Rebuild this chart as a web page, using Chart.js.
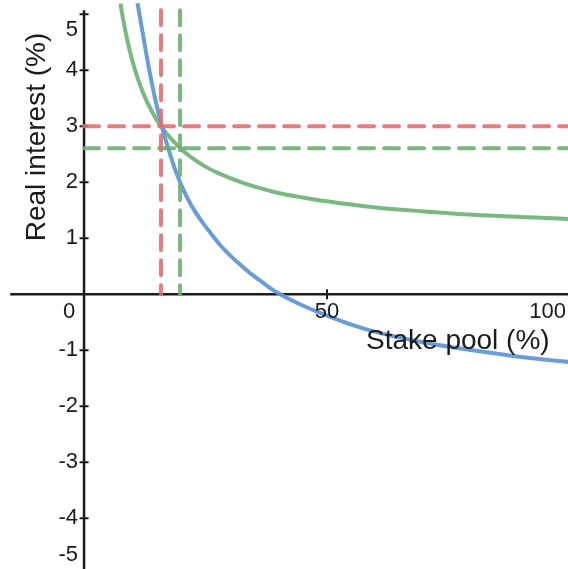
<!DOCTYPE html>
<html>
<head>
<meta charset="utf-8">
<script src="https://cdn.jsdelivr.net/npm/chart.js@4.4.1/dist/chart.umd.min.js"></script>
<style>
  html, body { margin: 0; padding: 0; background: #fff; overflow: hidden; }
  canvas { display: block; }
</style>
</head>
<body>
<canvas id="chart" width="568" height="569"></canvas>
<script>
// Blue curve
const blueX = [11, 12, 13, 14, 15, 16, 17, 18, 19, 20, 22, 24, 26, 28, 30, 32, 34, 36, 38, 40, 45, 50, 55, 60, 70, 80, 90, 100];
const blueY = [5.2, 4.7, 4.2, 3.75, 3.35, 3.0, 2.7, 2.42, 2.17, 1.95, 1.6, 1.33, 1.1, 0.88, 0.7, 0.54, 0.39, 0.26, 0.13, 0.02, -0.2, -0.38, -0.54, -0.67, -0.86, -1.0, -1.12, -1.21];

// Green curve
const greenX = [7.5, 8, 9, 10, 11, 12, 13, 14, 15, 16, 18, 20, 22, 25, 28, 32, 36, 40, 45, 50, 60, 70, 80, 90, 100];
const greenY = [5.19, 4.93, 4.5, 4.15, 3.87, 3.63, 3.43, 3.26, 3.11, 2.98, 2.77, 2.59, 2.45, 2.28, 2.15, 2.01, 1.9, 1.81, 1.73, 1.66, 1.55, 1.48, 1.42, 1.38, 1.345];

// Dashed guide lines
const redGuide = { x: 15.84, y: 3 };
const greenGuide = { x: 19.75, y: 2.61 };

// Axis ranges and ticks
const xRange = [-17.3, 99.6];
const yRange = [-4.905, 5.255];
const xAxisStart = -15.2;
const yAxisTop = 5.07;
const xTicks = [50, 100];
const yTicks = [-5, -4, -3, -2, -1, 1, 2, 3, 4, 5];
const xTitle = 'Stake pool (%)';
const yTitle = 'Real interest (%)';

const BLUE = 'rgba(98, 152, 212, 0.95)';
const GREEN = 'rgba(110, 178, 118, 0.92)';
const RED = 'rgba(222, 112, 112, 0.9)';
const GREEN_DASH = 'rgba(110, 175, 115, 0.9)';

function toPoints(xs, ys) {
    return xs.map((x, i) => ({ x, y: ys[i] }));
}

function curve(data, color) {
    return {
        data,
        borderColor: color,
        borderWidth: 4,
        pointRadius: 0,
        showLine: true,
        fill: false,
        cubicInterpolationMode: 'monotone',
        order: 2
    };
}

function dashed(data, color) {
    return {
        data,
        borderColor: color,
        borderWidth: 4,
        borderDash: [15, 10],
        borderCapStyle: 'round',
        pointRadius: 0,
        showLine: true,
        fill: false,
        order: 1
    };
}

const axesPlugin = {
    id: 'centerAxes',
    beforeDatasetsDraw(chart) {
        const { ctx, scales: { x, y } } = chart;
        const x0 = x.getPixelForValue(0);
        const y0 = y.getPixelForValue(0);
        ctx.save();
        ctx.strokeStyle = '#1c1c1c';
        ctx.lineWidth = 2.5;
        ctx.beginPath();
        ctx.moveTo(x.getPixelForValue(xAxisStart), y0);
        ctx.lineTo(chart.width, y0);
        ctx.moveTo(x0, y.getPixelForValue(yAxisTop));
        ctx.lineTo(x0, chart.height);
        ctx.stroke();

        ctx.lineWidth = 2;
        ctx.beginPath();
        xTicks.forEach(v => {
            const px = x.getPixelForValue(v);
            ctx.moveTo(px, y0 - 5);
            ctx.lineTo(px, y0 + 5);
        });
        yTicks.forEach(v => {
            const py = y.getPixelForValue(v);
            ctx.moveTo(x0 - 4.5, py);
            ctx.lineTo(x0 + 4.5, py);
        });
        ctx.stroke();
        ctx.restore();
    },
    afterDraw(chart) {
        const { ctx, scales: { x, y } } = chart;
        const x0 = x.getPixelForValue(0);
        const y0 = y.getPixelForValue(0);
        ctx.save();
        ctx.fillStyle = '#1a1a1a';
        ctx.font = '22px "Liberation Sans", Arial, sans-serif';
        ctx.textBaseline = 'middle';

        // x tick labels
        ctx.textAlign = 'center';
        ctx.fillText('0', x0 - 15, y0 + 18);
        xTicks.forEach(v => {
            const txt = String(v);
            const w = ctx.measureText(txt).width;
            let px = x.getPixelForValue(v);
            px = Math.min(px, chart.width - 2 - w / 2);
            ctx.fillText(txt, px, y0 + 18);
        });

        // y tick labels
        ctx.textAlign = 'right';
        yTicks.forEach(v => {
            let py = y.getPixelForValue(v);
            py = Math.max(30, Math.min(py, chart.height - 14));
            ctx.fillText(String(v), x0 - 6, py);
        });

        // titles
        ctx.font = '28px "Liberation Sans", Arial, sans-serif';
        ctx.textAlign = 'left';
        ctx.textBaseline = 'alphabetic';
        ctx.fillText(xTitle, 366, 349);

        ctx.translate(37, 137);
        ctx.rotate(-Math.PI / 2);
        ctx.textAlign = 'center';
        ctx.textBaseline = 'middle';
        ctx.fillText(yTitle, 0, 0);
        ctx.restore();
    }
};

new Chart(document.getElementById('chart'), {
    type: 'scatter',
    data: {
        datasets: [
            dashed([{ x: redGuide.x, y: yAxisTop }, { x: redGuide.x, y: 0 }], RED),
            dashed([{ x: 0, y: redGuide.y }, { x: xRange[1], y: redGuide.y }], RED),
            dashed([{ x: greenGuide.x, y: yAxisTop }, { x: greenGuide.x, y: 0 }], GREEN_DASH),
            dashed([{ x: 0, y: greenGuide.y }, { x: xRange[1], y: greenGuide.y }], GREEN_DASH),
            curve(toPoints(blueX, blueY), BLUE),
            curve(toPoints(greenX, greenY), GREEN)
        ]
    },
    options: {
        responsive: false,
        animation: false,
        layout: { padding: 0 },
        plugins: {
            legend: { display: false },
            tooltip: { enabled: false }
        },
        scales: {
            x: { type: 'linear', min: xRange[0], max: xRange[1], display: false },
            y: { type: 'linear', min: yRange[0], max: yRange[1], display: false }
        }
    },
    plugins: [axesPlugin]
});
</script>
</body>
</html>
